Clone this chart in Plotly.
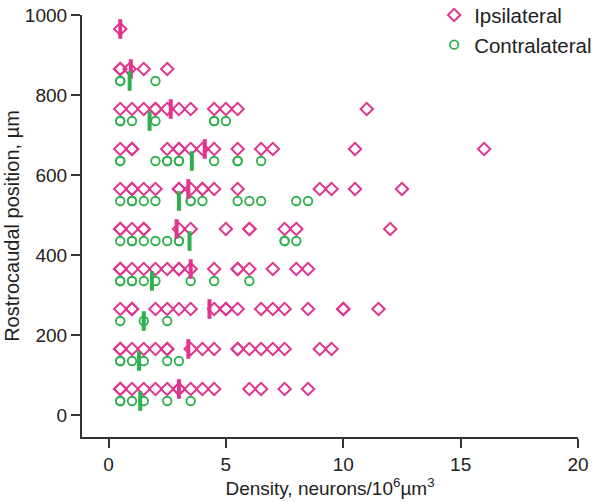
import plotly.graph_objects as go

# Row positions (µm)
ipsi_pos = [965, 865, 765, 665, 565, 465, 365, 265, 165, 65]
contra_pos = [835, 735, 635, 535, 435, 335, 235, 135, 35]

# Individual densities per row (neurons/10^6 µm^3)
ipsi_vals = [
    [0.5],
    [0.5, 0.5, 0.9, 1.5, 2.5],
    [0.5, 1.0, 1.5, 2.0, 2.0, 2.5, 3.0, 3.5, 4.5, 5.0, 5.5, 11.0],
    [0.5, 1.0, 1.0, 2.5, 3.0, 3.0, 3.5, 4.0, 4.5, 5.5, 6.5, 7.0, 10.5, 16.0],
    [0.5, 1.0, 1.0, 1.5, 2.0, 3.0, 3.0, 3.5, 4.0, 4.0, 4.5, 5.5, 9.0, 9.5, 10.5, 12.5],
    [0.5, 0.5, 1.0, 1.5, 1.5, 3.0, 3.5, 5.0, 6.0, 6.0, 7.5, 8.0, 12.0],
    [0.5, 0.5, 1.0, 1.5, 2.0, 2.5, 3.0, 3.0, 3.5, 4.5, 5.5, 5.5, 6.0, 7.0, 8.0, 8.5],
    [0.5, 1.0, 1.0, 2.0, 2.5, 3.0, 3.5, 4.5, 5.0, 5.0, 5.5, 6.5, 7.0, 7.5, 8.5, 10.0, 10.0, 11.5],
    [0.5, 0.5, 1.0, 1.5, 2.0, 2.5, 2.5, 3.5, 4.0, 4.5, 5.5, 5.5, 6.0, 6.5, 7.0, 7.5, 9.0, 9.5],
    [0.5, 0.5, 1.0, 1.5, 2.0, 2.5, 3.0, 3.0, 3.5, 4.0, 4.5, 6.0, 6.5, 7.5, 8.5],
]
contra_vals = [
    [0.5, 0.5, 2.0],
    [0.5, 0.5, 1.0, 2.0, 4.5, 4.5, 5.0],
    [0.5, 0.5, 2.0, 2.5, 2.5, 3.0, 3.0, 4.5, 5.5, 5.5, 6.5],
    [0.5, 1.0, 1.0, 1.5, 2.0, 3.5, 3.5, 4.0, 5.5, 6.0, 6.5, 8.0, 8.5],
    [0.5, 1.0, 1.0, 1.5, 2.0, 2.5, 3.0, 3.0, 7.5, 7.5, 8.0],
    [0.5, 0.5, 1.0, 1.0, 1.5, 2.0, 3.5, 4.5, 6.0],
    [0.5, 1.5, 2.5],
    [0.5, 0.5, 1.0, 1.5, 2.5, 3.0],
    [0.5, 0.5, 1.0, 1.5, 2.5, 3.5],
]

# Row means
ipsi_mean = [0.5, 0.95, 2.65, 4.1, 3.4, 2.9, 3.5, 4.3, 3.4, 3.0]
contra_mean = [0.9, 1.75, 3.55, 3.0, 3.45, 1.85, 1.5, 1.3, 1.35]

x_ticks = [0, 5, 10, 15, 20]
y_ticks = [0, 200, 400, 600, 800, 1000]

PINK = "#E2348E"
GREEN = "#2EB04C"
AX = "#333333"
FONT = "Liberation Sans, Arial, sans-serif"

def flatten(pos, vals):
    xs, ys = [], []
    for p, row in zip(pos, vals):
        for v in row:
            xs.append(v)
            ys.append(p)
    return xs, ys

ix, iy = flatten(ipsi_pos, ipsi_vals)
cx, cy = flatten(contra_pos, contra_vals)

fig = go.Figure()
fig.add_trace(go.Scatter(
    x=ix, y=iy, mode="markers", name="Ipsilateral",
    marker=dict(symbol="diamond-open", size=9.5, color=PINK, line=dict(width=2, color=PINK)),
    cliponaxis=False,
))
fig.add_trace(go.Scatter(
    x=cx, y=cy, mode="markers", name="Contralateral",
    marker=dict(symbol="circle-open", size=8.5, color=GREEN, line=dict(width=1.8, color=GREEN)),
    cliponaxis=False,
))
fig.add_trace(go.Scatter(
    x=ipsi_mean, y=ipsi_pos, mode="markers", showlegend=False,
    marker=dict(symbol="line-ns", size=14, color=PINK, line=dict(width=4, color=PINK)),
    cliponaxis=False,
))
fig.add_trace(go.Scatter(
    x=contra_mean, y=contra_pos, mode="markers", showlegend=False,
    marker=dict(symbol="line-ns", size=14, color=GREEN, line=dict(width=4, color=GREEN)),
    cliponaxis=False,
))

axis_common = dict(
    showgrid=False, zeroline=False, showline=True, linecolor=AX, linewidth=2.2,
    ticks="outside", ticklen=9, tickwidth=2, tickcolor=AX, automargin=True,
    tickfont=dict(family=FONT, size=19, color="#222222"),
)

fig.update_layout(
    width=600, height=502,
    margin=dict(l=82, r=22, t=15, b=65, autoexpand=False),
    paper_bgcolor="white", plot_bgcolor="white",
    font=dict(family=FONT, color="#222222"),
    xaxis=dict(
        range=[-1.13, 20], tickvals=x_ticks,
        title=dict(text="Density, neurons/10<sup>6</sup>µm<sup>3</sup>",
                   font=dict(family=FONT, size=19, color="#222222"), standoff=5),
        **axis_common,
    ),
    yaxis=dict(
        range=[-55, 1000], tickvals=y_ticks,
        title=dict(text="Rostrocaudal position, µm",
                   font=dict(family=FONT, size=20, color="#222222"), standoff=0),
        **axis_common,
    ),
    legend=dict(
        x=0.71, y=1.047, xanchor="left", yanchor="top",
        font=dict(family=FONT, size=20.5, color="#222222"),
        bgcolor="rgba(0,0,0,0)", tracegroupgap=0,
    ),
)

fig.write_html("out.html", config={"displayModeBar": False},
               post_script="document.body.style.margin='0';")
